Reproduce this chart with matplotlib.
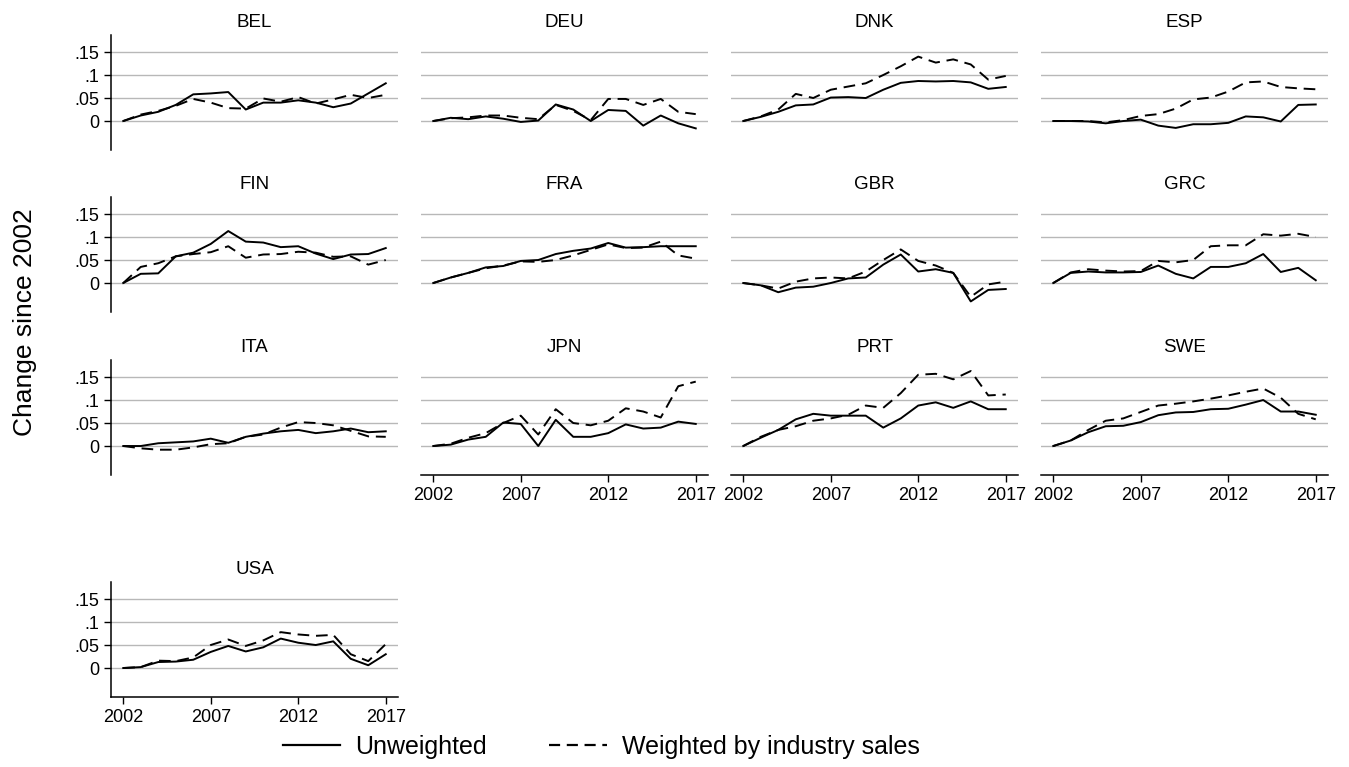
import matplotlib
matplotlib.use("Agg")
import matplotlib.pyplot as plt
from matplotlib.lines import Line2D

plt.rcParams['font.family'] = ['Liberation Sans', 'DejaVu Sans']

years = list(range(2002, 2018))

bel_unw = [0, 0.012, 0.02, 0.035, 0.058, 0.06, 0.063, 0.025, 0.04, 0.04, 0.045, 0.04, 0.03, 0.038, 0.06, 0.082]
bel_wgt = [0, 0.014, 0.022, 0.033, 0.048, 0.04, 0.028, 0.027, 0.049, 0.042, 0.052, 0.038, 0.047, 0.057, 0.05, 0.057]
deu_unw = [0, 0.007, 0.004, 0.01, 0.005, -0.002, 0.001, 0.036, 0.025, 0.0, 0.024, 0.022, -0.01, 0.012, -0.005, -0.016]
deu_wgt = [0, 0.006, 0.008, 0.012, 0.012, 0.007, 0.004, 0.035, 0.022, 0.002, 0.048, 0.048, 0.035, 0.048, 0.02, 0.015]
dnk_unw = [0, 0.009, 0.02, 0.034, 0.036, 0.051, 0.052, 0.05, 0.068, 0.083, 0.087, 0.086, 0.087, 0.084, 0.07, 0.074]
dnk_wgt = [0, 0.01, 0.025, 0.059, 0.05, 0.068, 0.075, 0.082, 0.1, 0.119, 0.14, 0.127, 0.134, 0.123, 0.09, 0.098]
esp_unw = [0, 0.0, -0.001, -0.005, 0.0, 0.003, -0.01, -0.015, -0.007, -0.007, -0.004, 0.01, 0.008, -0.001, 0.035, 0.036]
esp_wgt = [0, 0.0, 0.0, -0.003, 0.002, 0.011, 0.015, 0.027, 0.047, 0.051, 0.064, 0.084, 0.086, 0.074, 0.071, 0.069]
fin_unw = [0, 0.02, 0.021, 0.058, 0.066, 0.085, 0.113, 0.09, 0.088, 0.078, 0.08, 0.064, 0.052, 0.062, 0.063, 0.076]
fin_wgt = [0, 0.035, 0.043, 0.058, 0.063, 0.067, 0.08, 0.055, 0.062, 0.063, 0.068, 0.066, 0.057, 0.058, 0.04, 0.05]
fra_unw = [0, 0.012, 0.022, 0.034, 0.037, 0.048, 0.05, 0.063, 0.07, 0.075, 0.087, 0.077, 0.078, 0.08, 0.08, 0.08]
fra_wgt = [0, 0.012, 0.022, 0.032, 0.038, 0.047, 0.046, 0.05, 0.06, 0.072, 0.084, 0.076, 0.077, 0.09, 0.06, 0.053]
gbr_unw = [0, -0.005, -0.02, -0.01, -0.008, 0.0, 0.01, 0.012, 0.04, 0.062, 0.025, 0.03, 0.022, -0.04, -0.015, -0.013]
gbr_wgt = [0, -0.005, -0.012, 0.003, 0.01, 0.012, 0.01, 0.025, 0.05, 0.073, 0.048, 0.038, 0.022, -0.03, -0.003, 0.003]
grc_unw = [0, 0.022, 0.025, 0.023, 0.023, 0.024, 0.038, 0.02, 0.01, 0.035, 0.035, 0.043, 0.063, 0.024, 0.033, 0.006]
grc_wgt = [0, 0.023, 0.03, 0.027, 0.025, 0.026, 0.048, 0.045, 0.05, 0.08, 0.082, 0.082, 0.106, 0.103, 0.107, 0.1]
ita_unw = [0, 0.0, 0.006, 0.008, 0.01, 0.016, 0.007, 0.02, 0.027, 0.032, 0.035, 0.028, 0.032, 0.038, 0.03, 0.032]
ita_wgt = [0, -0.005, -0.008, -0.008, -0.003, 0.004, 0.006, 0.02, 0.025, 0.04, 0.052, 0.05, 0.045, 0.033, 0.021, 0.02]
jpn_unw = [0, 0.003, 0.014, 0.02, 0.051, 0.048, 0.0, 0.057, 0.02, 0.02, 0.028, 0.047, 0.038, 0.04, 0.053, 0.048]
jpn_wgt = [0, 0.005, 0.018, 0.028, 0.05, 0.066, 0.025, 0.08, 0.05, 0.045, 0.055, 0.082, 0.075, 0.062, 0.13, 0.14]
prt_unw = [0, 0.018, 0.035, 0.058, 0.07, 0.066, 0.066, 0.066, 0.04, 0.06, 0.088, 0.095, 0.083, 0.097, 0.08, 0.08]
prt_wgt = [0, 0.02, 0.035, 0.043, 0.055, 0.06, 0.068, 0.088, 0.083, 0.115, 0.155, 0.157, 0.145, 0.163, 0.11, 0.112]
swe_unw = [0, 0.012, 0.03, 0.043, 0.044, 0.052, 0.067, 0.073, 0.074, 0.08, 0.081, 0.09, 0.1, 0.075, 0.075, 0.068]
swe_wgt = [0, 0.012, 0.035, 0.055, 0.06, 0.074, 0.088, 0.092, 0.097, 0.103, 0.11, 0.118, 0.125, 0.105, 0.07, 0.058]
usa_unw = [0, 0.002, 0.013, 0.014, 0.018, 0.035, 0.048, 0.036, 0.045, 0.064, 0.055, 0.05, 0.058, 0.02, 0.006, 0.03]
usa_wgt = [0, 0.002, 0.016, 0.015, 0.023, 0.05, 0.062, 0.048, 0.06, 0.078, 0.073, 0.07, 0.072, 0.03, 0.015, 0.052]

countries = ["BEL", "DEU", "DNK", "ESP", "FIN", "FRA", "GBR", "GRC",
             "ITA", "JPN", "PRT", "SWE", "USA"]
unweighted = [bel_unw, deu_unw, dnk_unw, esp_unw, fin_unw, fra_unw, gbr_unw,
              grc_unw, ita_unw, jpn_unw, prt_unw, swe_unw, usa_unw]
weighted = [bel_wgt, deu_wgt, dnk_wgt, esp_wgt, fin_wgt, fra_wgt, gbr_wgt,
            grc_wgt, ita_wgt, jpn_wgt, prt_wgt, swe_wgt, usa_wgt]

yticks = [0, 0.05, 0.1, 0.15]
yticklabels = ["0", ".05", ".1", ".15"]
xticks = [2002, 2007, 2012, 2017]

W, H = 1349, 767
fig = plt.figure(figsize=(W / 100, H / 100), dpi=100)
fig.patch.set_facecolor("white")

col_left = [111, 421, 731, 1041]
row_top = [35, 197, 360, 582]
aw, ah = 287, 115

bottom_row = {"JPN", "PRT", "SWE", "USA"}
grid_col = "#b8b8b8"
dash = (0, (6, 3.5))

for i, c in enumerate(countries):
    r, col = divmod(i, 4)
    l = col_left[col]
    t = row_top[r]
    ax = fig.add_axes([l / W, 1 - (t + ah) / H, aw / W, ah / H])
    ax.set_xlim(2001.3, 2017.7)
    ax.set_ylim(-0.063, 0.187)
    for yv in yticks:
        ax.axhline(yv, color=grid_col, lw=1.0, zorder=0)
    ax.plot(years, unweighted[i], color="black", lw=1.4, zorder=3)
    ax.plot(years, weighted[i], color="black", lw=1.4, ls=dash, zorder=3)
    ax.set_title(c, fontsize=13.5, pad=6)
    for s in ["top", "right"]:
        ax.spines[s].set_visible(False)
    if col == 0:
        ax.spines["left"].set_linewidth(1.1)
        ax.set_yticks(yticks)
        ax.set_yticklabels(yticklabels, fontsize=13)
        ax.tick_params(axis="y", length=5, width=1, direction="out")
    else:
        ax.spines["left"].set_visible(False)
        ax.set_yticks([])
    if c in bottom_row:
        ax.spines["bottom"].set_linewidth(1.1)
        ax.set_xticks(xticks)
        ax.set_xticklabels([str(x) for x in xticks], fontsize=13)
        ax.tick_params(axis="x", length=5, width=1, direction="out")
    else:
        ax.spines["bottom"].set_visible(False)
        ax.set_xticks([])

fig.text(25 / W, 1 - 322 / H, "Change since 2002", rotation=90,
         ha="center", va="center", fontsize=19)

handles = [Line2D([0], [0], color="black", lw=1.6),
           Line2D([0], [0], color="black", lw=1.6, ls=(0, (5, 3)))]
fig.legend(handles, ["Unweighted", "Weighted by industry sales"],
           loc="center", bbox_to_anchor=(601 / W, 1 - 747 / H), ncol=2,
           frameon=False, fontsize=18, handlelength=2.3, columnspacing=2.5,
           handletextpad=0.6)

fig.savefig("out.png", dpi=100, facecolor="white")
